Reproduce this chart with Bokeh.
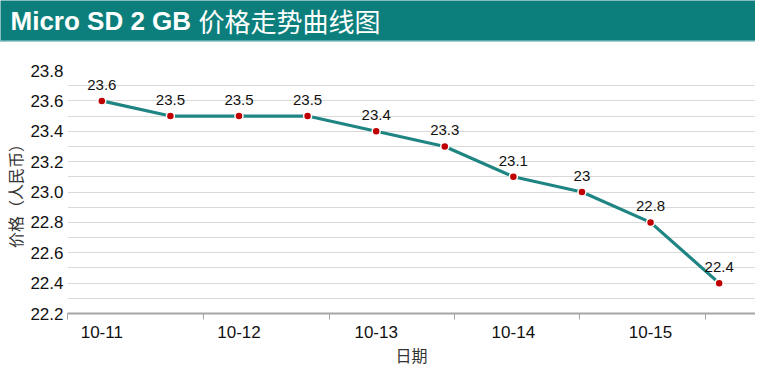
from bokeh.plotting import figure
from bokeh.models import ColumnDataSource, FixedTicker, LinearAxis, Range1d, Span, NumeralTickFormatter, CustomJSTickFormatter
from bokeh.layouts import column
from bokeh.core.properties import value
from bokeh.embed import file_html
from bokeh.resources import INLINE

# ---- data ----
title_latin = "Micro SD 2 GB"
title_cjk = "价格走势曲线图"
point_index = [0, 1, 2, 3, 4, 5, 6, 7, 8, 9]
prices = [23.6, 23.5, 23.5, 23.5, 23.4, 23.3, 23.1, 23.0, 22.8, 22.4]
price_labels = ["23.6", "23.5", "23.5", "23.5", "23.4", "23.3", "23.1", "23", "22.8", "22.4"]
date_tick_index = [0, 2, 4, 6, 8]
date_labels = ["10-11", "10-12", "10-13", "10-14", "10-15"]
y_ticks = [22.2, 22.4, 22.6, 22.8, 23.0, 23.2, 23.4, 23.6, 23.8]
y_minor_ticks = [22.3, 22.5, 22.7, 22.9, 23.1, 23.3, 23.5, 23.7]
axis_mark_positions = [-0.5, 1.486, 3.314, 5.143, 6.971, 8.8, 9.53]

TEAL = "#0c7f7c"
FONT = "Liberation Sans"
CJK = "Noto Sans CJK SC"

# ---- title bar ----
W = 755
TH = 42
tf = figure(width=W, height=TH, x_range=Range1d(0, W), y_range=Range1d(0, TH),
            x_axis_type=None, y_axis_type=None, toolbar_location=None,
            output_backend="svg", min_border=0,
            background_fill_color=TEAL, border_fill_color=TEAL, outline_line_color=None)
tf.grid.visible = False
tf.title = None
tf.text(x=[10], y=[TH - 20], text=[title_latin], text_color="white",
        text_font=value(FONT), text_font_style="bold", text_font_size="26px",
        text_baseline="middle", text_align="left")
tf.text(x=[198], y=[TH - 20], text=[title_cjk], text_color="white",
        text_font=value(CJK), text_font_size="26px",
        text_baseline="middle", text_align="left")
tf.add_layout(Span(location=1, dimension="width", line_color="#9fd0cd", line_width=2))

# ---- main chart ----
src = ColumnDataSource(dict(x=point_index, y=prices, label=price_labels))

p = figure(width=W, height=369 - TH, x_range=Range1d(-0.5, 9.53), y_range=Range1d(22.2, 23.8),
           x_axis_type=None, toolbar_location=None, output_backend="svg",
           min_border_left=60, min_border_right=0, min_border_top=28, min_border_bottom=49,
           outline_line_color=None, background_fill_color="white", border_fill_color="white")
p.title = None

for fig in (tf, p):
    try:
        fig.frame_align = False
    except Exception:
        pass

p.xgrid.visible = False
p.ygrid.ticker = FixedTicker(ticks=y_ticks, minor_ticks=y_minor_ticks)
p.ygrid.grid_line_color = "#d9d9d9"
p.ygrid.minor_grid_line_color = "#d9d9d9"

yax = p.yaxis[0]
yax.ticker = FixedTicker(ticks=y_ticks, minor_ticks=y_minor_ticks)
yax.formatter = NumeralTickFormatter(format="0.0")
yax.axis_line_color = None
yax.major_tick_line_color = None
yax.minor_tick_line_color = None
yax.major_tick_out = 0
yax.major_tick_in = 0
yax.minor_tick_out = 0
yax.minor_tick_in = 0
yax.major_label_text_font = FONT
yax.major_label_text_font_size = "17px"
yax.major_label_text_color = "#111111"
yax.major_label_standoff = 4
yax.axis_label = "价格（人民币）"
yax.axis_label_text_font = CJK
yax.axis_label_text_font_style = "normal"
yax.axis_label_text_font_size = "16px"
yax.axis_label_text_color = "#333333"
yax.axis_label_standoff = 0

ax1 = LinearAxis(ticker=FixedTicker(ticks=axis_mark_positions),
                 formatter=CustomJSTickFormatter(code="return ''"),
                 axis_line_color="#a6a6a6", axis_line_width=2,
                 major_tick_line_color="#a6a6a6", major_tick_line_width=1,
                 major_tick_in=0, major_tick_out=6,
                 minor_tick_line_color=None, major_label_standoff=0)
p.add_layout(ax1, "below")

ax2 = LinearAxis(ticker=FixedTicker(ticks=date_tick_index),
                 major_label_overrides={i: s for i, s in zip(date_tick_index, date_labels)},
                 axis_line_color=None, major_tick_line_color=None, minor_tick_line_color=None,
                 major_tick_in=0, major_tick_out=0,
                 major_label_standoff=6, major_label_text_font=FONT,
                 major_label_text_font_size="17px", major_label_text_color="#111111",
                 axis_label="日期", axis_label_text_font=CJK, axis_label_text_font_style="normal",
                 axis_label_text_font_size="16px", axis_label_text_color="#333333",
                 axis_label_standoff=2)
p.add_layout(ax2, "below")

p.line("x", "y", source=src, line_color="#1f8583", line_width=3.2)
p.scatter("x", "y", source=src, size=8, fill_color="#c00000", line_color="white", line_width=1.5)
p.text("x", "y", text="label", source=src, text_font=value(FONT), text_font_size="15px",
       text_color="#111111", text_align="center", text_baseline="bottom", y_offset=-11)

layout = column(tf, p, spacing=0)
open("out.html", "w").write(file_html(layout, INLINE))
